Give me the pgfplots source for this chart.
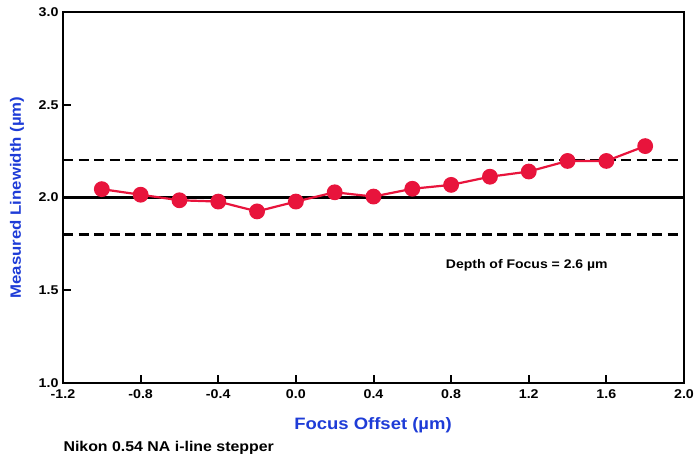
\documentclass[border=0pt]{standalone}
\usepackage{fontspec}
\setmainfont[FakeStretch=1.12]{Liberation Sans}
\usepackage{pgfplots}
\pgfplotsset{compat=1.18}
\definecolor{ptred}{RGB}{232,20,60}
\definecolor{lblblue}{RGB}{30,60,215}
\begin{document}
\begin{tikzpicture}[x=1pt,y=1pt]
\useasboundingbox (-63,-79) rectangle (633,383);
\begin{axis}[
  at={(0,0)}, anchor=south west,
  scale only axis, width=621pt, height=371pt,
  xmin=-1.2, xmax=2.0, ymin=1.0, ymax=3.0,
  xtick={-1.2,-0.8,...,2.01}, ytick={1.0,1.5,2.0,2.5,3.0},
  tick align=inside, xtick pos=bottom, ytick pos=left,
  major tick length=8pt,
  tick style={black, line width=2pt},
  axis line style={black, line width=2.2pt},
  ticklabel style={font=\bfseries\fontsize{12.7}{14}\selectfont},
  /pgf/number format/assume math mode=true,
  /pgf/number format/.cd, fixed, fixed zerofill, precision=1, /tikz/.cd,
  xticklabel style={yshift=-3pt},
  yticklabel style={xshift=-1pt},
  clip=false,
]
\addplot[black, line width=2.2pt, dash pattern=on 10pt off 5.5pt, forget plot] coordinates {(-1.2,2.2) (2.0,2.2)};
\addplot[black, line width=2.2pt, dash pattern=on 10pt off 5.5pt, forget plot] coordinates {(-1.2,1.8) (2.0,1.8)};
\addplot[black, line width=2.2pt, forget plot] coordinates {(-1.2,2.0) (2.0,2.0)};
\addplot[ptred, line width=2.2pt, mark=*, mark size=6.8pt, mark options={fill=ptred, draw=ptred}] coordinates {
(-1.0,2.045) (-0.8,2.015) (-0.6,1.985) (-0.4,1.978) (-0.2,1.925)
(0.0,1.978) (0.2,2.028) (0.4,2.005) (0.6,2.047) (0.8,2.068)
(1.0,2.112) (1.2,2.140) (1.4,2.197) (1.6,2.197) (1.8,2.277)};
\node[font=\bfseries\fontsize{12.5}{14}\selectfont] at (axis cs:1.19,1.636) {Depth of Focus = 2.6 µm};
\end{axis}
\node[rotate=90, text=lblblue, font=\bfseries\fontsize{15}{17}\selectfont] at (-46,185.5) {Measured Linewidth (µm)};
\node[text=lblblue, font=\bfseries\fontsize{16.5}{18}\selectfont] at (310,-42) {Focus Offset (µm)};
\node[anchor=west, font=\bfseries\fontsize{14.2}{16}\selectfont] at (-3,-65) {Nikon 0.54 NA i-line stepper};
\end{tikzpicture}
\end{document}
